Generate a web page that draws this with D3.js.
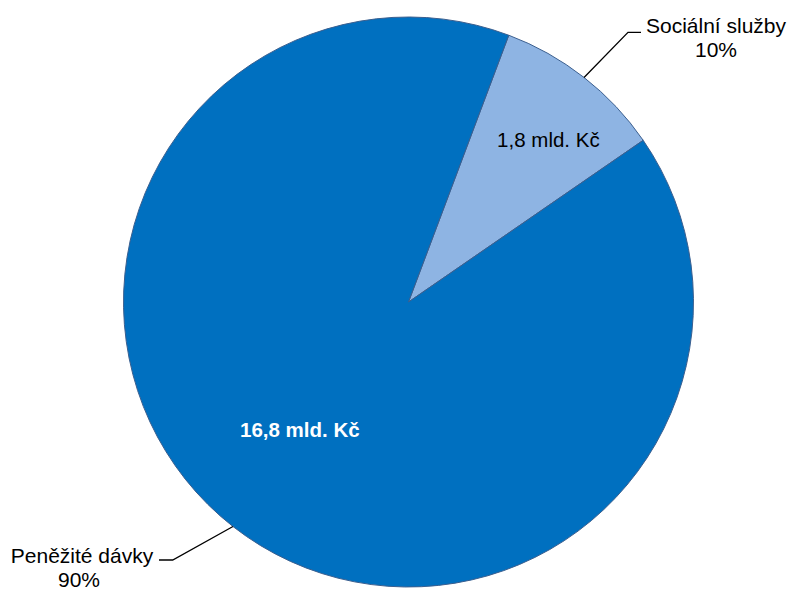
<!DOCTYPE html>
<html>
<head>
<meta charset="utf-8">
<script src="https://cdn.jsdelivr.net/npm/d3@7"></script>
<style>
  body { margin: 0; background: #fff; }
  text { font-family: "Liberation Sans", Arial, sans-serif; }
</style>
</head>
<body>
<div id="chart"></div>
<script>
// Data
var categories = ["Sociální služby", "Peněžité dávky"];
var values = [1.8, 16.8];
var valueLabels = ["1,8 mld. Kč", "16,8 mld. Kč"];
var percentLabels = ["10%", "90%"];

var width = 788, height = 590;
var cx = 408.5, cy = 302, radius = 285;
var colors = ["#8EB4E3", "#0070C0"];

var svg = d3.select("#chart")
  .append("svg")
  .attr("width", width)
  .attr("height", height);

var g = svg.append("g")
  .attr("transform", "translate(" + cx + "," + cy + ")");

// pie starts with the small slice, rotated so it sits upper right
var startDeg = 20.6;
var pie = d3.pie()
  .sort(null)
  .startAngle(startDeg * Math.PI / 180)
  .endAngle((startDeg + 360) * Math.PI / 180)
  .value(function(d) { return d; });

var arcs = pie(values);

var arc = d3.arc().innerRadius(0).outerRadius(radius);

g.selectAll(".slice")
  .data(arcs)
  .enter().append("path")
  .attr("class", "slice")
  .attr("d", arc)
  .attr("fill", function(d, i) { return colors[i]; })
  .attr("stroke", "#3B5F8F")
  .attr("stroke-width", 1);

// value labels inside slices (radius and angle nudge from mid-angle)
var labelRadius = [214, 168];
var labelNudge = [2.8, 2.3];
var labelStyle = [
  { fill: "#000", weight: "normal" },
  { fill: "#fff", weight: "bold" }
];
function polar(r, a) { return [r * Math.sin(a), -r * Math.cos(a)]; }

g.selectAll(".value-label")
  .data(arcs)
  .enter().append("text")
  .attr("class", "value-label")
  .attr("transform", function(d, i) {
    var a = (d.startAngle + d.endAngle) / 2 + labelNudge[i] * Math.PI / 180;
    var c = polar(labelRadius[i], a);
    return "translate(" + c[0] + "," + (c[1] + 7) + ")";
  })
  .attr("text-anchor", "middle")
  .attr("font-size", "20.5px")
  .attr("font-weight", function(d, i) { return labelStyle[i].weight; })
  .attr("fill", function(d, i) { return labelStyle[i].fill; })
  .text(function(d, i) { return valueLabels[i]; });

// outside category labels with leader lines (positions relative to centre)
var outside = [
  { lineEnd: [232.5, -269.7], elbow: [219.5, -269.7], text: [307.5, -269] },
  { lineEnd: [-249.5, 258], elbow: [-235.8, 258], text: [-326.5, 261] }
];

g.selectAll(".leader")
  .data(arcs)
  .enter().append("polyline")
  .attr("class", "leader")
  .attr("points", function(d, i) {
    var s = d3.arc().innerRadius(radius).outerRadius(radius).centroid(d);
    var o = outside[i];
    return [s, o.elbow, o.lineEnd].map(function(p) { return p.join(","); }).join(" ");
  })
  .attr("fill", "none")
  .attr("stroke", "#000")
  .attr("stroke-width", 1.3);

var cat = g.selectAll(".cat-label")
  .data(arcs)
  .enter().append("text")
  .attr("class", "cat-label")
  .attr("text-anchor", "middle")
  .attr("font-size", "21px")
  .attr("fill", "#000");

cat.append("tspan")
  .attr("x", function(d, i) { return outside[i].text[0]; })
  .attr("y", function(d, i) { return outside[i].text[1]; })
  .text(function(d, i) { return categories[i]; });

cat.append("tspan")
  .attr("x", function(d, i) { return outside[i].text[0] - (i === 1 ? 3 : 0); })
  .attr("dy", "1.15em")
  .text(function(d, i) { return percentLabels[i]; });
</script>
</body>
</html>
